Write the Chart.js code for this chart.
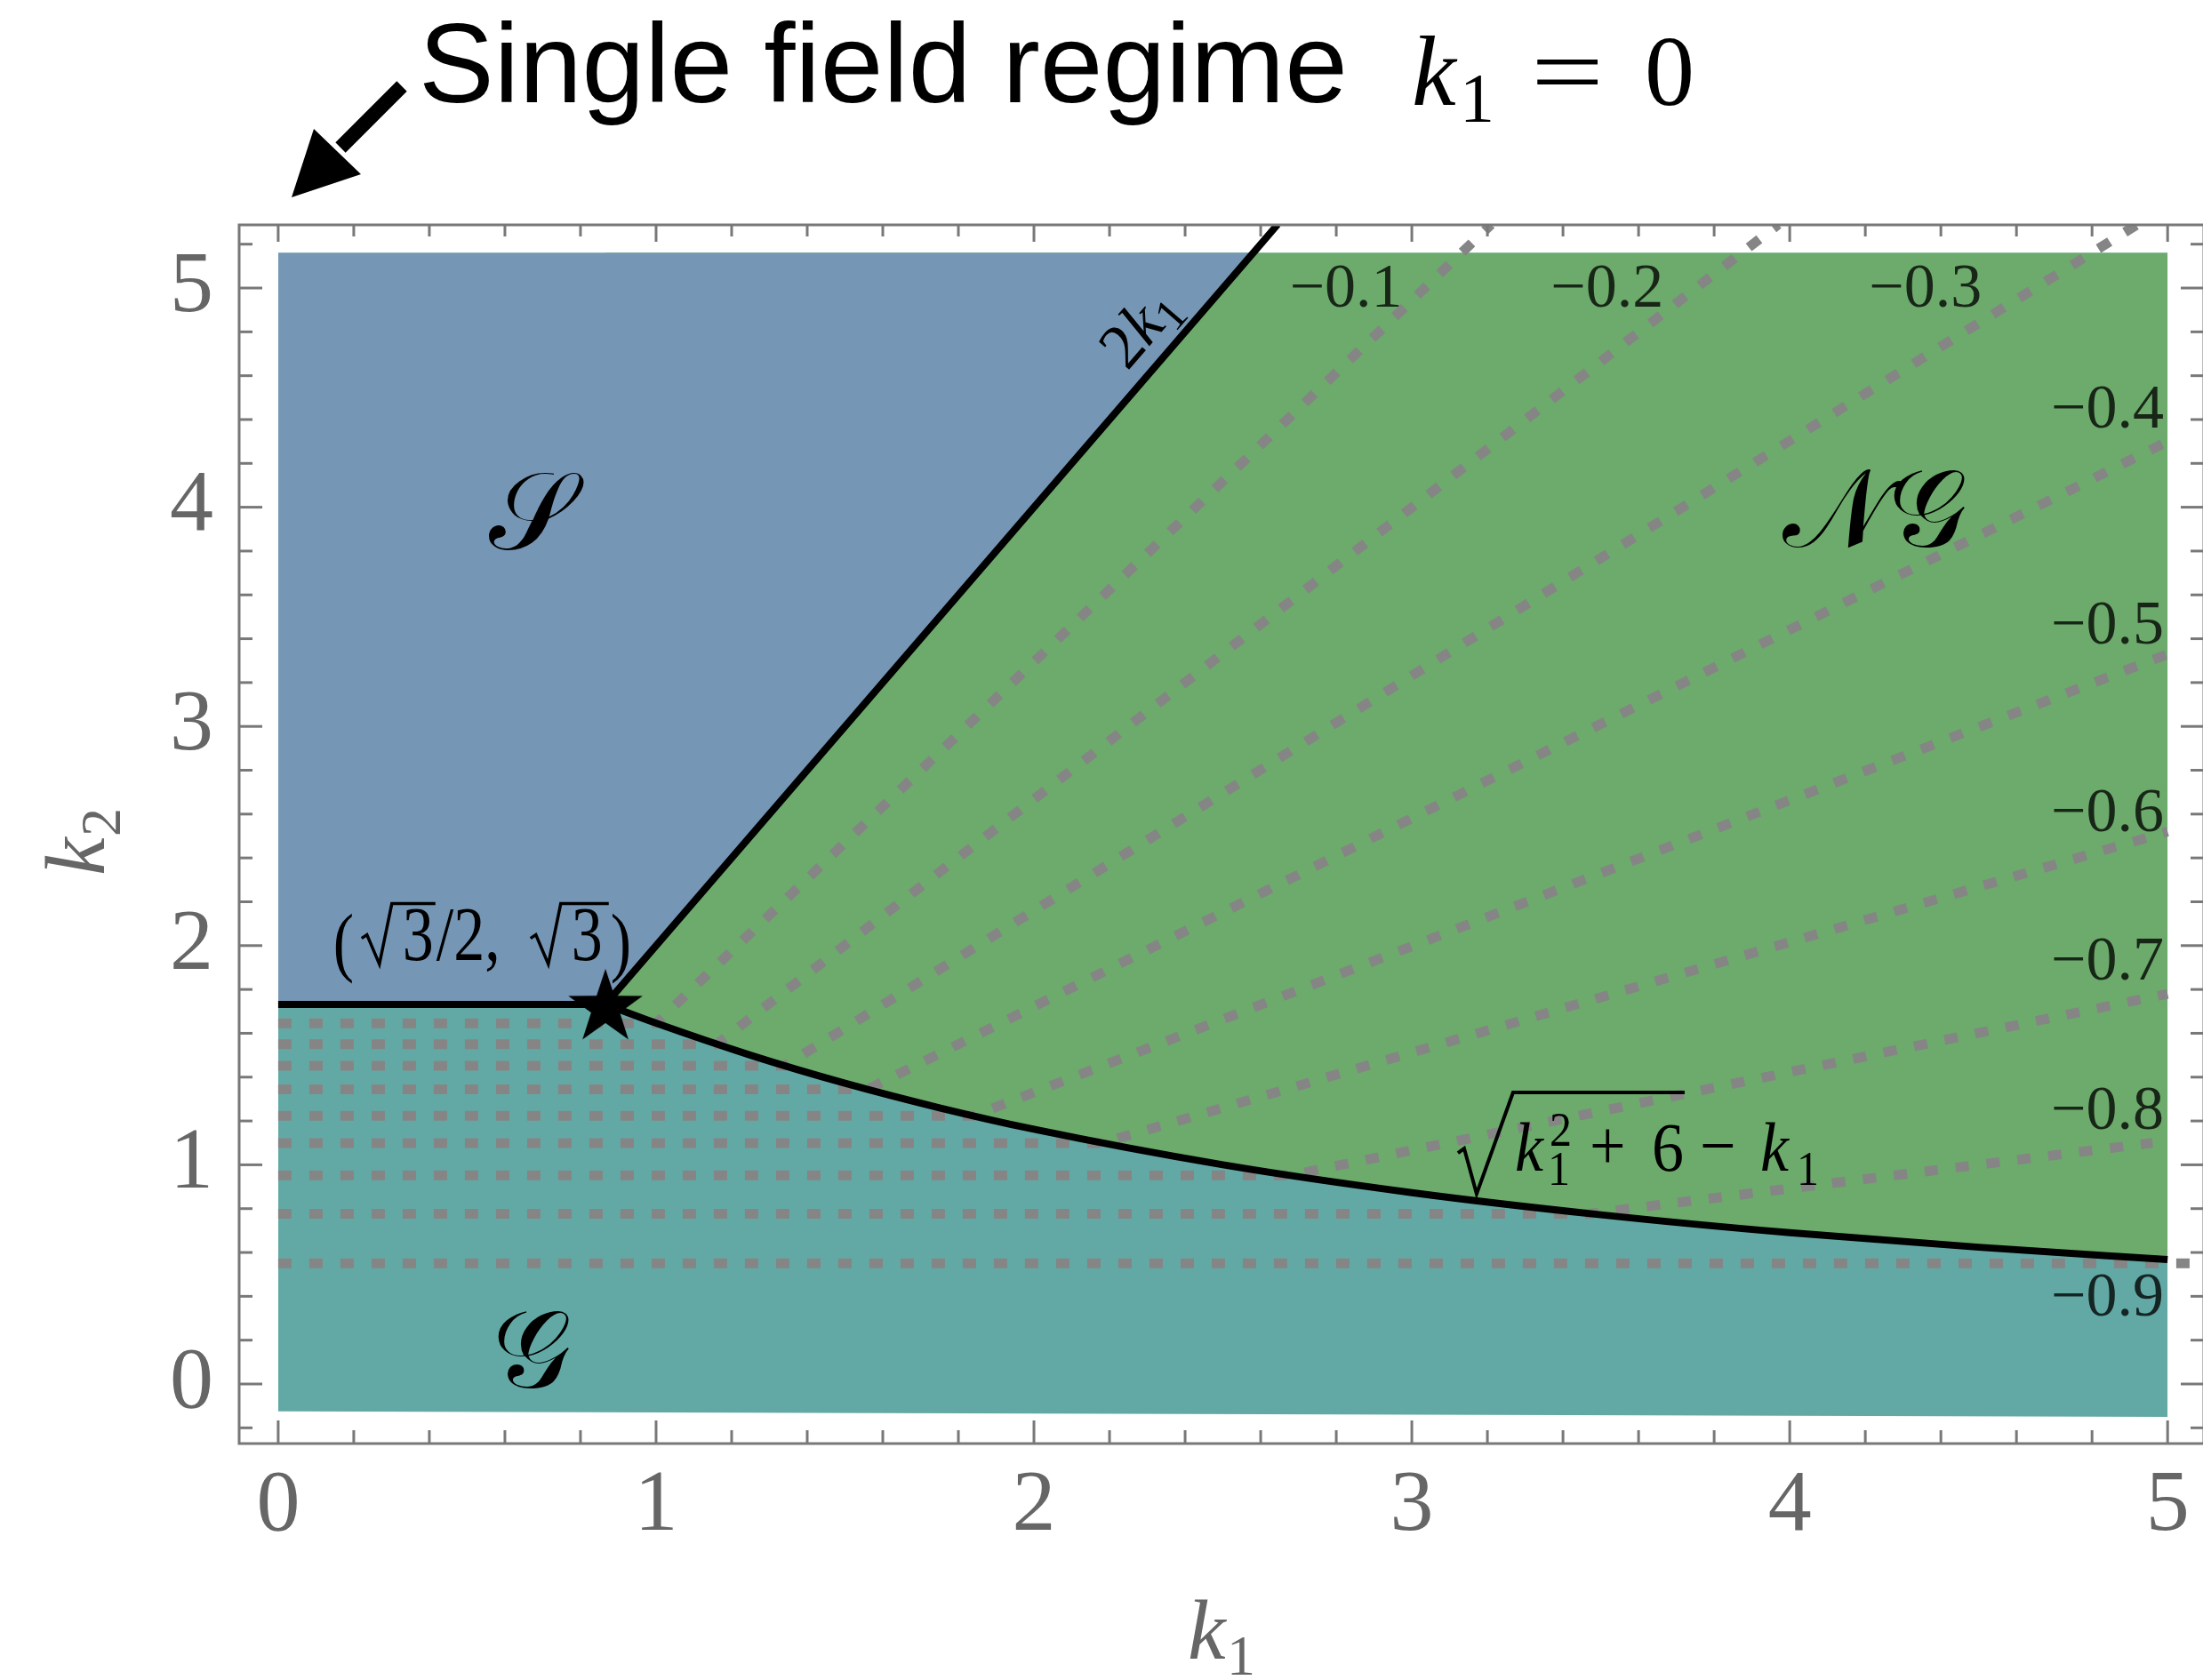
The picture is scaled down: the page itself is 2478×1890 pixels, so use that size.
<!DOCTYPE html>
<html>
<head>
<meta charset="utf-8">
<title>Single field regime</title>
<script src="https://cdn.jsdelivr.net/npm/chart.js"></script>
<style>
  body { margin: 0; background: #fff; overflow: hidden; }
  #regimes { display: block; }
</style>
</head>
<body>
<canvas id="regimes" width="2490" height="1890"></canvas>
<script>
// axis ticks
const k1Ticks = [0, 1, 2, 3, 4, 5];
const k2Ticks = [0, 1, 2, 3, 4, 5];

// shaded band: bottom edge at k1 = 0 and 5, common top edge
const bandK1 = [0, 5];
const bandBottomK2 = [-0.125, -0.15];
const bandTopK2 = 5.16;

// boundary k2 = sqrt(3) for k1 < sqrt(3)/2
const flatK1 = [0, 0.866];
const flatK2 = [1.732, 1.732];
// boundary k2 = 2 k1 (second point is where it meets the band top)
const steepK1 = [0.866, 2.58, 2.645];
const steepK2 = [1.732, 5.16, 5.29];
// boundary k2 = sqrt(k1^2 + 6) - k1
const curveK1 = [0.866, 1.0, 1.25, 1.5, 1.75, 2.0, 2.5, 3.0, 3.5, 4.0, 4.5, 5.0];
const curveK2 = [1.732, 1.646, 1.500, 1.372, 1.260, 1.162, 1.000, 0.873, 0.772, 0.690, 0.624, 0.568];

// dashed contours -0.1 ... -0.9: flat part in G, then straight in NG
const contourNames = ['\u22120.1', '\u22120.2', '\u22120.3', '\u22120.4', '\u22120.5', '\u22120.6', '\u22120.7', '\u22120.8', '\u22120.9'];
const contourFlatK2 = [1.645, 1.55, 1.452, 1.344, 1.224, 1.099, 0.952, 0.777, 0.551];
const contourBendK1 = [1.00, 1.16, 1.34, 1.56, 1.84, 2.18, 2.68, 3.47, 5.06];
const contourEndK1 = [3.21, 3.97, 4.92, 5.0, 5.0, 5.0, 5.0, 4.96, 5.06];
const contourEndK2 = [5.29, 5.29, 5.29, 4.30, 3.33, 2.52, 1.78, 1.10, 0.551];

// the marked corner (sqrt(3)/2, sqrt(3))
const starK1 = [0.866];
const starK2 = [1.732];

const pts = (xs, ys) => xs.map((x, i) => ({ x: x, y: ys[i] }));
const clear = 'rgba(0,0,0,0)';

// filled five point star for the corner marker
const starImg = document.createElement('canvas');
starImg.width = 92; starImg.height = 92;
(function () {
  const c = starImg.getContext('2d');
  c.beginPath();
  for (let i = 0; i < 10; i++) {
    const r = i % 2 ? 17 : 44;
    const a = -Math.PI / 2 + i * Math.PI / 5;
    c.lineTo(46 + r * Math.cos(a), 50 + r * Math.sin(a));
  }
  c.closePath();
  c.fillStyle = '#000';
  c.fill();
})();

const datasets = [
  { // G
    data: pts(bandK1, bandBottomK2), fill: { value: bandTopK2 },
    backgroundColor: '#62a9a5', borderColor: clear, borderWidth: 0, order: 10
  },
  { // NG
    data: pts(curveK1, curveK2), fill: { value: bandTopK2 }, cubicInterpolationMode: 'monotone',
    backgroundColor: '#6cab6b', borderColor: clear, borderWidth: 0, order: 9
  },
  { // S
    data: pts(flatK1.concat(steepK1.slice(1, 2)), flatK2.concat(steepK2.slice(1, 2))),
    fill: { value: bandTopK2 },
    backgroundColor: '#7696b5', borderColor: clear, borderWidth: 0, order: 8
  }
];

contourNames.forEach((name, i) => {
  datasets.push({
    label: name,
    data: [
      { x: 0, y: contourFlatK2[i] },
      { x: contourBendK1[i], y: contourFlatK2[i] },
      { x: contourEndK1[i], y: contourEndK2[i] }
    ],
    fill: false, borderColor: '#858585', borderWidth: 11, borderDash: [15, 20],
    borderCapStyle: 'butt', order: 5
  });
});

datasets.push(
  {
    data: pts(flatK1, flatK2).concat(pts(steepK1.slice(1), steepK2.slice(1))),
    fill: false, borderColor: '#000', borderWidth: 8, borderJoinStyle: 'miter', order: 2
  },
  {
    data: pts(curveK1, curveK2), fill: false, cubicInterpolationMode: 'monotone',
    borderColor: '#000', borderWidth: 8, order: 2
  },
  {
    data: pts(starK1, starK2), showLine: false, pointStyle: starImg, pointRadius: 10, order: 1
  }
);

datasets.forEach(d => { if (d.pointRadius === undefined) d.pointRadius = 0; });

function radical(ctx, x0, y0, pts, lw) {
  ctx.beginPath();
  ctx.moveTo(x0 + pts[0][0], y0 + pts[0][1]);
  for (let i = 1; i < pts.length; i++) ctx.lineTo(x0 + pts[i][0], y0 + pts[i][1]);
  ctx.lineWidth = lw;
  ctx.lineJoin = 'miter';
  ctx.stroke();
}

function put(ctx, text, font, x, y, sy) {
  ctx.save();
  ctx.translate(x, y);
  ctx.scale(1, sy || 1);
  ctx.font = font;
  ctx.fillText(text, 0, 0);
  ctx.restore();
}

const serif = '"Liberation Serif", "DejaVu Serif", serif';

const annotations = {
  id: 'annotations',
  afterDatasetsDraw(chart) {
    const ctx = chart.ctx;
    const sx = chart.scales.x, sy = chart.scales.y;
    const px = v => sx.getPixelForValue(v), py = v => sy.getPixelForValue(v);
    ctx.save();
    ctx.fillStyle = '#000';
    ctx.strokeStyle = '#000';

    // region names
    ctx.textAlign = 'center';
    ctx.textBaseline = 'middle';
    ctx.font = '124px "DejaVu Serif", serif';
    ctx.fillText('\u{1D4AE}', px(0.671), py(3.94));
    ctx.fillText('\u{1D4A9}\u{1D4A2}', px(4.225), py(3.95));
    ctx.fillText('\u{1D4A2}', px(0.671), py(0.114));

    // 2k1 along the steep boundary
    const ang = Math.atan2(py(2) - py(0), px(1) - px(0));
    ctx.save();
    ctx.translate(px(2.28), py(4.82));
    ctx.rotate(ang);
    ctx.textAlign = 'left';
    ctx.textBaseline = 'alphabetic';
    ctx.font = '72px ' + serif;
    const w2 = ctx.measureText('2').width;
    ctx.font = 'italic 72px ' + serif;
    const wk = ctx.measureText('k').width;
    const tot = w2 + wk + 26;
    ctx.font = '72px ' + serif;
    ctx.fillText('2', -tot / 2, 22);
    ctx.font = 'italic 72px ' + serif;
    ctx.fillText('k', -tot / 2 + w2, 22);
    ctx.font = '52px ' + serif;
    ctx.fillText('1', -tot / 2 + w2 + wk, 34);
    ctx.restore();

    // (sqrt3/2, sqrt3) above the star
    ctx.textAlign = 'left';
    ctx.textBaseline = 'alphabetic';
    const ax = px(0.1455), ay = py(1.936);
    const f1 = '70px ' + serif;
    put(ctx, '(', f1, ax, ay + 8, 1.25);
    radical(ctx, ax, ay, [[32, -24], [38, -28], [52, 5], [66, -63], [115, -63]], 3.5);
    put(ctx, '3', f1, ax + 78, ay, 1.25);
    put(ctx, '/2,', f1, ax + 116, ay, 1.25);
    radical(ctx, ax, ay, [[222, -24], [228, -28], [242, 5], [256, -63], [310, -63]], 3.5);
    put(ctx, '3', f1, ax + 268, ay, 1.25);
    put(ctx, ')', f1, ax + 312, ay + 8, 1.25);

    // sqrt(k1^2 + 6) - k1 along the curve
    const bx = px(3.122), by = py(0.973);
    radical(ctx, bx, by, [[0, -20], [7, -25], [21, 26], [62, -88], [255, -88]], 4);
    const fi = 'italic 72px ' + serif, fs = '50px ' + serif, fr = '72px ' + serif;
    put(ctx, 'k', fi, bx + 64, by, 1.1);
    put(ctx, '2', fs, bx + 103, by - 28, 1.1);
    put(ctx, '1', fs, bx + 101, by + 16, 1.1);
    put(ctx, '+', fr, bx + 148, by - 2, 1.1);
    put(ctx, '6', fr, bx + 218, by, 1.1);
    put(ctx, '\u2212', fr, bx + 272, by - 2, 1.1);
    put(ctx, 'k', fi, bx + 340, by, 1.1);
    put(ctx, '1', fs, bx + 381, by + 16, 1.1);

    // contour values
    const labelAt = [[2.826, 4.988], [3.517, 4.988], [4.359, 4.988], [4.841, 4.436], [4.841, 3.451],
                     [4.841, 2.595], [4.841, 1.918], [4.841, 1.237], [4.841, 0.385]];
    ctx.textAlign = 'center';
    ctx.textBaseline = 'middle';
    ctx.fillStyle = 'rgba(0,0,0,0.78)';
    ctx.font = '70px ' + serif;
    contourNames.forEach((name, i) => {
      ctx.fillText(name, px(labelAt[i][0]), py(labelAt[i][1]));
    });
    ctx.restore();
  }
};

const frame = {
  id: 'frame',
  afterDraw(chart) {
    const ctx = chart.ctx, a = chart.chartArea;
    const sx = chart.scales.x, sy = chart.scales.y;
    ctx.save();
    ctx.strokeStyle = '#787878';
    ctx.lineWidth = 3;
    const seg = (x1, y1, x2, y2) => { ctx.beginPath(); ctx.moveTo(x1, y1); ctx.lineTo(x2, y2); ctx.stroke(); };
    for (let i = 0; i <= 25; i++) {
      const p = sx.getPixelForValue(i / 5), len = i % 5 ? 15 : 26;
      seg(p, a.bottom, p, a.bottom - len);
      seg(p, a.top, p, a.top + (i % 5 ? 13 : 19));
    }
    for (let i = -1; i <= 26; i++) {
      const p = sy.getPixelForValue(i / 5), len = i % 5 ? 15 : 26;
      if (p < a.top || p > a.bottom) continue;
      seg(a.left, p, a.left + len, p);
      seg(a.right, p, a.right - len, p);
    }
    ctx.strokeRect(a.left, a.top, a.right - a.left, a.bottom - a.top);

    // axis titles
    ctx.fillStyle = '#666';
    ctx.textBaseline = 'alphabetic';
    ctx.textAlign = 'left';
    ctx.font = 'italic 96px ' + serif;
    ctx.fillText('k', 1336, 1866);
    ctx.font = '64px ' + serif;
    ctx.fillText('1', 1380, 1884);
    ctx.save();
    ctx.translate(117, 985);
    ctx.rotate(-Math.PI / 2);
    ctx.font = 'italic 96px ' + serif;
    ctx.fillText('k', 0, 0);
    ctx.font = '64px ' + serif;
    ctx.fillText('2', 44, 18);
    ctx.restore();

    // headline and arrow
    ctx.fillStyle = '#000';
    ctx.font = '127px "Liberation Sans", Arial, sans-serif';
    ctx.fillText('Single field regime', 471, 115);
    ctx.font = 'italic 112px ' + serif;
    ctx.fillText('k', 1588, 118);
    ctx.font = '78px ' + serif;
    ctx.fillText('1', 1642, 136);
    ctx.font = '112px ' + serif;
    ctx.save();
    ctx.translate(1722, 118);
    ctx.scale(1.3, 1);
    ctx.fillText('=', 0, 0);
    ctx.restore();
    ctx.fillText('0', 1850, 118);

    ctx.strokeStyle = '#000';
    ctx.lineWidth = 16;
    seg(452, 97, 383, 166);
    ctx.beginPath();
    ctx.moveTo(328, 222);
    ctx.lineTo(353, 145);
    ctx.lineTo(406, 196);
    ctx.closePath();
    ctx.fill();
    ctx.restore();
  }
};

const tickFont = { family: 'Liberation Serif', size: 98 };

new Chart(document.getElementById('regimes'), {
  type: 'line',
  data: { datasets: datasets },
  options: {
    responsive: false,
    animation: false,
    devicePixelRatio: 1,
    layout: { padding: { top: 253, right: 6, left: 0, bottom: 0 } },
    plugins: { legend: { display: false }, tooltip: { enabled: false } },
    scales: {
      x: {
        type: 'linear', min: -0.1033, max: 5.096,
        afterBuildTicks: s => { s.ticks = k1Ticks.map(v => ({ value: v })); },
        afterFit: s => { s.height = 266; },
        grid: { display: false, drawTicks: false },
        border: { display: false },
        ticks: { font: tickFont, color: '#666', padding: 12, maxRotation: 0, autoSkip: false }
      },
      y: {
        type: 'linear', min: -0.2717, max: 5.288,
        afterBuildTicks: s => { s.ticks = k2Ticks.map(v => ({ value: v })); },
        afterFit: s => { s.width = 269; },
        grid: { display: false, drawTicks: false },
        border: { display: false },
        ticks: { font: tickFont, color: '#666', padding: 29, autoSkip: false }
      }
    }
  },
  plugins: [annotations, frame]
});
</script>
</body>
</html>
